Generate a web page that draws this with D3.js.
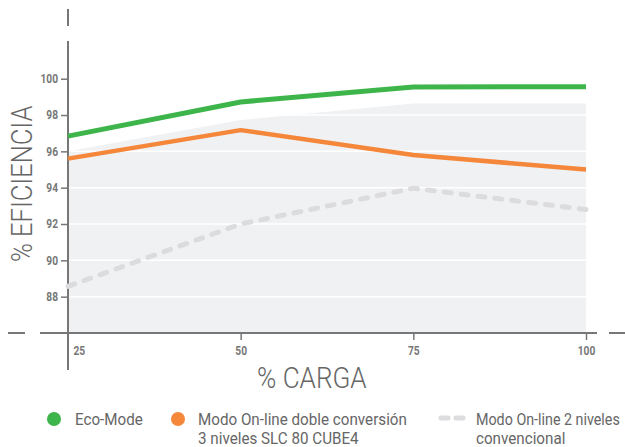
<!DOCTYPE html>
<html>
<head>
<meta charset="utf-8">
<script src="https://cdn.jsdelivr.net/npm/d3@7"></script>
<style>
  body { margin: 0; background: #fff; }
  svg { display: block; font-family: Roboto, "Liberation Sans", sans-serif; }
</style>
</head>
<body>
<svg></svg>
<script>
var width = 625,
    height = 447;

// data
var carga = [25, 50, 75, 100];
var ecoMode = [96.84, 98.72, 99.54, 99.56];
var onlineCube = [95.6, 97.17, 95.8, 95.0];
var online2 = [88.57, 92.0, 93.97, 92.8];
var areaTop = [96.0, 97.72, 98.64, 98.64];
var yTicks = [88, 90, 92, 94, 96, 98, 100];
var xTicks = [25, 50, 75, 100];

var svg = d3.select("svg")
    .attr("width", width)
    .attr("height", height);

var x = d3.scaleLinear().domain([25, 100]).range([68, 586]);
var y = d3.scaleLinear().domain([86, 100]).range([333, 78.7]);

var axisColor = "#777";
var textColor = "#666";

// squeeze text horizontally to imitate the condensed face of the original
function condense(sel, factor) {
    sel.each(function() {
        var w = this.getComputedTextLength();
        d3.select(this)
            .attr("textLength", w * factor)
            .attr("lengthAdjust", "spacingAndGlyphs");
    });
}

////////////////////////
// background area + grid
////////////////////////

var area = d3.area()
    .x(function(d, i) { return x(carga[i]); })
    .y0(y(86))
    .y1(function(d) { return y(d); });

svg.append("path")
    .attr("d", area(areaTop))
    .attr("fill", "#f0f1f3");

svg.selectAll(".grid")
    .data(yTicks)
    .enter()
    .append("line")
    .attr("x1", x(25))
    .attr("x2", x(100))
    .attr("y1", function(d) { return y(d); })
    .attr("y2", function(d) { return y(d); })
    .attr("stroke", "#fff")
    .attr("stroke-width", 1.5);

////////////////////////
// axes
////////////////////////

var yAxis = svg.append("g")
    .attr("transform", "translate(68,0)")
    .call(d3.axisLeft(y).tickValues(yTicks).tickSize(7).tickPadding(3));

yAxis.select(".domain").remove();
yAxis.selectAll("line").attr("stroke", axisColor).attr("stroke-width", 1.5);
yAxis.selectAll("text")
    .attr("fill", axisColor)
    .attr("font-size", 12)
    .attr("font-weight", "bold")
    .attr("font-family", "Roboto, sans-serif")
    .call(condense, 0.85);

var xAxis = svg.append("g")
    .attr("transform", "translate(0," + y(86) + ")")
    .call(d3.axisBottom(x).tickValues(xTicks).tickSize(7).tickPadding(6));

xAxis.select(".domain").remove();
xAxis.selectAll("line")
    .attr("stroke", axisColor)
    .attr("stroke-width", 1.5)
    .style("display", function(d) { return d == 25 ? "none" : null; });
xAxis.selectAll("text")
    .attr("fill", axisColor)
    .attr("font-size", 12)
    .attr("font-weight", "bold")
    .attr("font-family", "Roboto, sans-serif")
    .attr("text-anchor", function(d) { return d == 25 ? "start" : "middle"; })
    .attr("dx", function(d) { return d == 25 ? 5 : 0; })
    .call(condense, 0.85);

// axis lines and break marks
var axisLines = [
    [68, 41, 68, 370],
    [68, 9, 68, 26],
    [40, 333, 597, 333],
    [8, 333, 25, 333],
    [609, 333, 625, 333]
];
svg.selectAll(".axis-line")
    .data(axisLines)
    .enter()
    .append("line")
    .attr("x1", function(d) { return d[0]; })
    .attr("y1", function(d) { return d[1]; })
    .attr("x2", function(d) { return d[2]; })
    .attr("y2", function(d) { return d[3]; })
    .attr("stroke", axisColor)
    .attr("stroke-width", 2);

////////////////////////
// series
////////////////////////

var line = d3.line()
    .x(function(d, i) { return x(carga[i]); })
    .y(function(d) { return y(d); });

svg.append("path")
    .attr("d", line(online2))
    .attr("fill", "none")
    .attr("stroke", "#dcdcde")
    .attr("stroke-width", 5)
    .attr("stroke-linecap", "round")
    .attr("stroke-dasharray", "7 10");

svg.append("path")
    .attr("d", line(onlineCube))
    .attr("fill", "none")
    .attr("stroke", "#f5873b")
    .attr("stroke-width", 4.5)
    .attr("stroke-linejoin", "round");

svg.append("path")
    .attr("d", line(ecoMode))
    .attr("fill", "none")
    .attr("stroke", "#3db54a")
    .attr("stroke-width", 5)
    .attr("stroke-linejoin", "round");

////////////////////////
// titles
////////////////////////

svg.append("text")
    .attr("x", 257)
    .attr("y", 388)
    .attr("fill", textColor)
    .attr("font-size", 29)
    .attr("font-weight", 300)
    .text("% CARGA")
    .call(condense, 0.9);

svg.append("text")
    .attr("transform", "translate(32,262) rotate(-90)")
    .attr("fill", textColor)
    .attr("font-size", 29)
    .attr("font-weight", 300)
    .text("% EFICIENCIA")
    .call(condense, 0.88);

////////////////////////
// legend
////////////////////////

var legendFont = 16;
var legendSqueeze = 0.95;

// legend labels are squeezed with a transform so they stay inside the frame
function legendText(xPos, yPos, label) {
    var t = svg.append("text")
        .attr("fill", textColor)
        .attr("font-size", legendFont)
        .text(label);
    var w = t.node().getComputedTextLength();
    var s = Math.min(legendSqueeze, (width - 5 - xPos) / w);
    t.attr("transform", "translate(" + xPos + "," + yPos + ") scale(" + s + ",1)");
}

svg.append("circle").attr("cx", 54).attr("cy", 419).attr("r", 7).attr("fill", "#3db54a");
legendText(75, 425, "Eco-Mode");

svg.append("circle").attr("cx", 178).attr("cy", 419).attr("r", 7).attr("fill", "#f5873b");
legendText(198, 425, "Modo On-line doble conversión");
legendText(198, 444, "3 niveles SLC 80 CUBE4");

svg.append("line")
    .attr("x1", 441).attr("x2", 463).attr("y1", 418).attr("y2", 418)
    .attr("stroke", "#dcdcde")
    .attr("stroke-width", 5)
    .attr("stroke-linecap", "round")
    .attr("stroke-dasharray", "7 8");
legendText(476, 425, "Modo On-line 2 niveles");
legendText(476, 444, "convencional");
</script>
</body>
</html>
